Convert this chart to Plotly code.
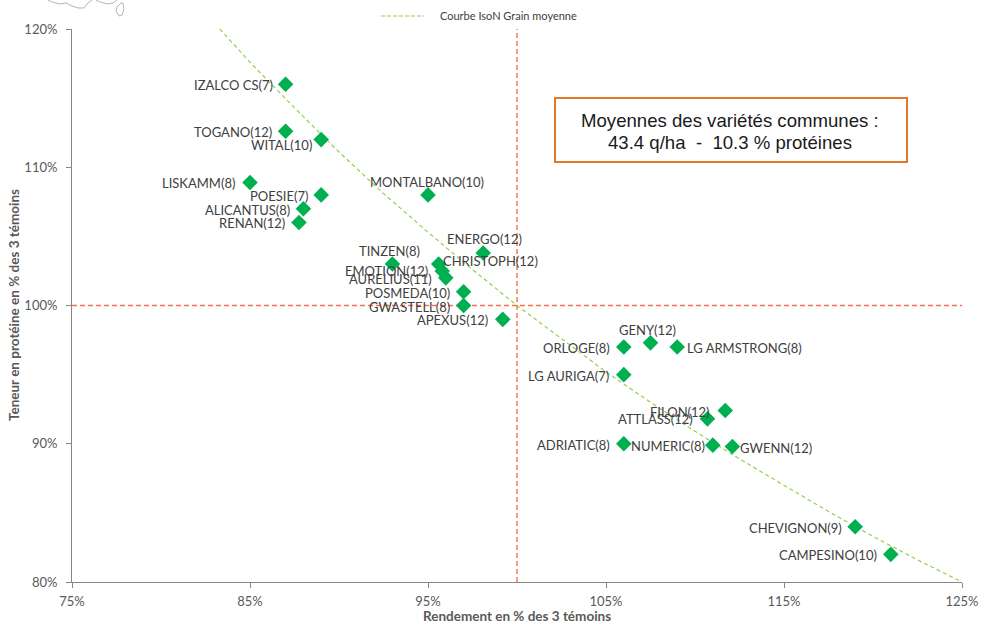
import plotly.graph_objects as go

varieties = ["IZALCO CS(7)", "TOGANO(12)", "WITAL(10)", "LISKAMM(8)", "POESIE(7)", "ALICANTUS(8)", "RENAN(12)",
             "MONTALBANO(10)", "ENERGO(12)", "CHRISTOPH(12)", "TINZEN(8)", "EMOTION(12)", "AURELIUS(11)",
             "POSMEDA(10)", "GWASTELL(8)", "APEXUS(12)", "GENY(12)", "ORLOGE(8)", "LG ARMSTRONG(8)",
             "LG AURIGA(7)", "FILON(12)", "ATTLASS(12)", "ADRIATIC(8)", "NUMERIC(8)", "GWENN(12)",
             "CHEVIGNON(9)", "CAMPESINO(10)"]
rendement = [87, 87, 89, 85, 89, 88, 87.75, 95, 98.1, 95.6, 93, 95.8, 96, 97, 97, 99.2, 107.5, 106, 109,
             106, 111.7, 110.7, 106, 111, 112.1, 119, 121]
proteine = [116, 112.6, 112, 108.9, 108, 107, 106, 108, 103.8, 103, 103, 102.5, 102, 101, 100, 99, 97.3, 97, 97,
            95, 92.4, 91.8, 90, 89.9, 89.8, 84, 82]
curve_x = [83.3, 85, 87.5, 90, 92.5, 95, 97.5, 100, 102.5, 105, 107.5, 110, 112.5, 115, 117.5, 120, 122.5, 125]
curve_y = [120, 117.6, 114.3, 111.1, 108.1, 105.3, 102.6, 100, 97.6, 95.2, 93, 90.9, 88.9, 87, 85.1, 83.3, 81.6, 80]
x_ticks = [75, 85, 95, 105, 115, 125]
y_ticks = [80, 90, 100, 110, 120]
x_title = "Rendement en % des 3 témoins"
y_title = "Teneur en protéine en % des 3 témoins"
legend_label = "Courbe IsoN Grain moyenne"
box_lines = ["Moyennes des variétés communes :", "43.4 q/ha  -  10.3 % protéines"]

# label centre offset from its marker, in pixels (right, down)
label_offsets = [(-52, 1), (-53, 1), (-40, 5), (-52, 1), (-42, 1), (-56, 1), (-47, 0),
                 (-1, -13), (1, -14), (52, -3), (-3, -13), (-56, 0), (-55, 1),
                 (-56, 1), (-54, 1), (-50, 1), (-3, -13), (-47, 1), (67, 1),
                 (-55, 1), (-45, 1), (-52, 0), (-50, 1), (-45, 1), (44, 1),
                 (-60, 1), (-63, 1)]

W, H = 982, 624
L, R, T, B = 72, 20, 29, 42
PW, PH = W - L - R, H - T - B
GREY = "#868686"
TXT = "#595959"
LBL = "#404040"
LABEL_FONT = "Lato"


def px(x):
    return (x - L) / PW


def py(y):
    return (H - B - y) / PH


def path(points, close=False):
    s = "M " + " L ".join(f"{px(a):.4f},{py(b):.4f}" for a, b in points)
    return s + (" Z" if close else "")


fig = go.Figure()
fig.add_trace(go.Scatter(x=curve_x, y=curve_y, mode="lines", cliponaxis=False, hoverinfo="skip",
                         line=dict(color="#92D050", width=1.2, dash="4px,3px")))
fig.add_trace(go.Scatter(x=rendement, y=proteine, mode="markers", text=varieties, cliponaxis=False,
                         marker=dict(symbol="diamond", size=12, color="#00B050")))

shapes = [
    dict(type="line", xref="x", yref="paper", x0=100, x1=100, y0=0, y1=1, layer="below",
         line=dict(color="#F4714A", width=1.4, dash="5px,3px")),
    dict(type="line", xref="paper", yref="y", x0=0, x1=1, y0=100, y1=100, layer="below",
         line=dict(color="#F4714A", width=1.4, dash="5px,3px")),
    dict(type="rect", xref="paper", yref="paper", x0=px(555), x1=px(907), y0=py(162), y1=py(98),
         line=dict(color="#E8772E", width=2), fillcolor="white"),
    dict(type="line", xref="paper", yref="paper", x0=px(381), x1=px(424), y0=py(16), y1=py(16),
         line=dict(color="#92D050", width=1.2, dash="4px,2px")),
    dict(type="path", xref="paper", yref="paper",
         path=path([(48, 0), (52, 2), (60, 4), (66, 3), (72, 6), (78, 8), (84, 8), (88, 3), (92, 0)]),
         line=dict(color="#B5B5B5", width=1)),
    dict(type="path", xref="paper", yref="paper",
         path=path([(96, 0), (100, 2), (108, 4), (113, 3), (117, 0)]),
         line=dict(color="#B5B5B5", width=1)),
    dict(type="path", xref="paper", yref="paper",
         path=path([(121, 3), (117, 7), (116, 11), (119, 16), (122, 15), (124, 9), (123, 3)], close=True),
         line=dict(color="#B5B5B5", width=1)),
]

annotations = [
    dict(x=xv, y=yv, xref="x", yref="y", text=name, showarrow=False, xshift=dx, yshift=-dy,
         xanchor="center", yanchor="middle", font=dict(family=LABEL_FONT, size=13, color=LBL))
    for name, xv, yv, (dx, dy) in zip(varieties, rendement, proteine, label_offsets)
]
annotations += [
    dict(x=px(730), y=py(120), xref="paper", yref="paper", text=box_lines[0], showarrow=False,
         xanchor="center", yanchor="middle",
         font=dict(family="Liberation Sans", size=18.6, color="#1a1a1a")),
    dict(x=px(730), y=py(142), xref="paper", yref="paper", text=box_lines[1], showarrow=False,
         xanchor="center", yanchor="middle",
         font=dict(family="Liberation Sans", size=18.6, color="#1a1a1a")),
    dict(x=px(438), y=py(15), xref="paper", yref="paper", text=legend_label, showarrow=False,
         xanchor="left", yanchor="middle", font=dict(family=LABEL_FONT, size=11, color=LBL)),
    dict(x=px(517), y=py(616), xref="paper", yref="paper", text=x_title, showarrow=False,
         xanchor="center", yanchor="middle",
         font=dict(family=LABEL_FONT, size=13.5, color=TXT, weight="bold")),
    dict(x=px(14), y=py(305), xref="paper", yref="paper", text=y_title, showarrow=False, textangle=-90,
         xanchor="center", yanchor="middle",
         font=dict(family=LABEL_FONT, size=13.5, color=TXT, weight="bold")),
]

axis_common = dict(showgrid=False, zeroline=False, showline=True, linecolor=GREY, linewidth=1,
                   ticks="outside", tickcolor=GREY, ticklen=5, tickwidth=1,
                   tickfont=dict(family=LABEL_FONT, size=13, color=TXT), tickmode="array")

fig.update_layout(
    width=W, height=H, autosize=False,
    margin=dict(l=L, r=R, t=T, b=B, pad=0, autoexpand=False),
    paper_bgcolor="white", plot_bgcolor="white", showlegend=False,
    shapes=shapes, annotations=annotations,
    xaxis=dict(axis_common, range=[75, 125], tickvals=x_ticks, ticktext=[f"{v}%" for v in x_ticks],
               ticklabelstandoff=2),
    yaxis=dict(axis_common, range=[80, 120], tickvals=y_ticks, ticktext=[f"{v}%" for v in y_ticks],
               ticklabelstandoff=6),
)
fig.write_html("out.html", config={"displayModeBar": False},
               post_script="document.body.style.margin='0';document.documentElement.style.overflow='hidden';")
